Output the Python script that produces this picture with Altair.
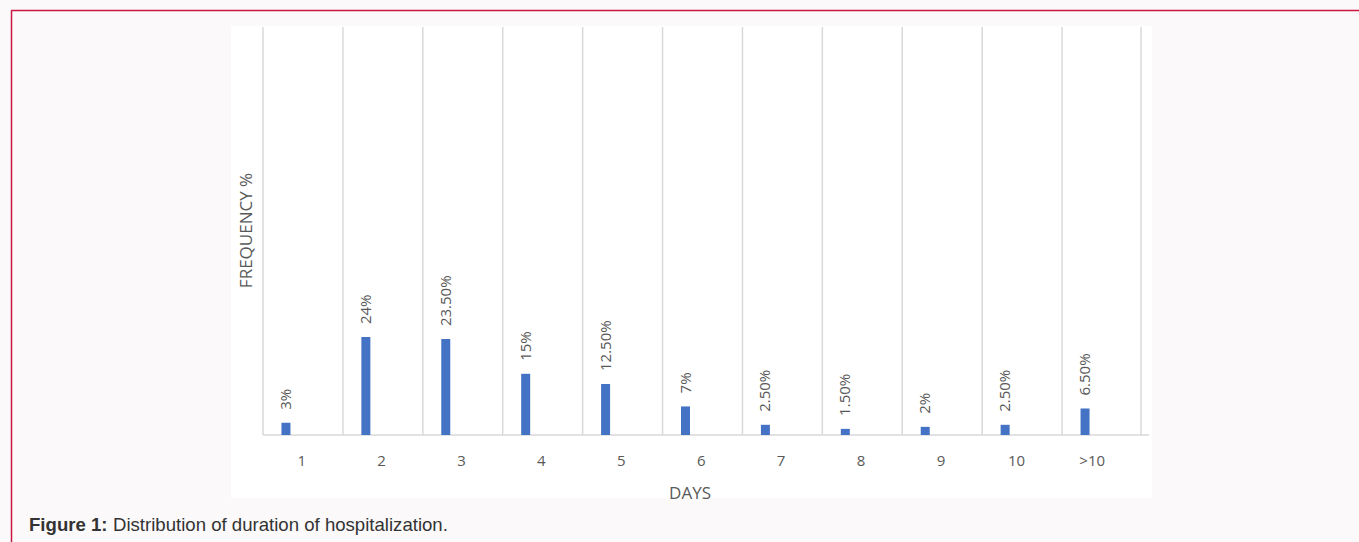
import altair as alt
import pandas as pd

days = ["1", "2", "3", "4", "5", "6", "7", "8", "9", "10", ">10"]
freq = [3, 24, 23.5, 15, 12.5, 7, 2.5, 1.5, 2, 2.5, 6.5]
labels = ["3%", "24%", "23.50%", "15%", "12.50%", "7%", "2.50%", "1.50%", "2%", "2.50%", "6.50%"]

df = pd.DataFrame({"day": days, "freq": freq, "label": labels})

W, H = 879, 408
FONT = "Open Sans"
GRAY = "#595959"
GRID = "#D9D9D9"
RED = "#CC1840"

xscale = alt.Scale(paddingInner=0, paddingOuter=0)
yscale = alt.Scale(domain=[0, 100])

one = alt.Data(values=[{}])

panel = alt.Chart(one).mark_rect(color="white").encode(
    x=alt.value(-32), x2=alt.value(889), y=alt.value(-1), y2=alt.value(471)
)

border_top = alt.Chart(one).mark_rule(color=RED, strokeWidth=1.5).encode(
    x=alt.value(-252), x2=alt.value(1096), y=alt.value(-16.5)
)
border_left = alt.Chart(one).mark_rule(color=RED, strokeWidth=1.5).encode(
    x=alt.value(-251.5), y=alt.value(-16.5), y2=alt.value(515)
)

grid = alt.Chart(df).mark_rule(color=GRID, strokeWidth=1.5).encode(
    x=alt.X("day:N", sort=days, bandPosition=0, scale=xscale),
    y=alt.value(0), y2=alt.value(H),
)
grid_end = alt.Chart(one).mark_rule(color=GRID, strokeWidth=1.5).encode(
    x=alt.value(W - 1), y=alt.value(0), y2=alt.value(H)
)
axis_line = alt.Chart(one).mark_rule(color=GRID, strokeWidth=1.5).encode(
    x=alt.value(0), x2=alt.value(886), y=alt.value(H)
)

bars = alt.Chart(df).mark_bar(color="#4472C4", width=9, xOffset=-17).encode(
    x=alt.X(
        "day:N", sort=days, scale=xscale,
        axis=alt.Axis(
            title="DAYS", labelAngle=0, domain=False, ticks=False, tickSize=0,
            grid=False, labelFont=FONT, labelFontSize=15, labelColor=GRAY,
            labelPadding=25, labelBaseline="middle", labelOffset=3, zindex=2,
            titleFont=FONT, titleFontSize=17, titleColor=GRAY,
            titleFontWeight="normal", titleX=426.5, titleY=63,
            titleBaseline="alphabetic",
        ),
    ),
    y=alt.Y(
        "freq:Q", scale=yscale,
        axis=alt.Axis(
            title="FREQUENCY %", labels=False, ticks=False, domain=False,
            grid=False, titleFont=FONT, titleFontSize=17, titleColor=GRAY,
            titleFontWeight="normal", titleX=-17, titleY=203, zindex=2,
            titleAngle=270, titleBaseline="middle", titleAlign="center",
        ),
    ),
)

text = alt.Chart(df).mark_text(
    angle=270, align="left", baseline="middle", dx=13, xOffset=-17,
    font=FONT, fontSize=15, color=GRAY,
).encode(
    x=alt.X("day:N", sort=days, scale=xscale),
    y=alt.Y("freq:Q", scale=yscale),
    text="label:N",
)

cap_bold = alt.Chart(one).mark_text(
    align="left", baseline="alphabetic", font="Liberation Sans",
    fontSize=18.6, fontWeight="bold", color="#333333",
).encode(x=alt.value(29 - 263), y=alt.value(531 - 27), text=alt.value("Figure 1:"))

cap_reg = alt.Chart(one).mark_text(
    align="left", baseline="alphabetic", font="Liberation Sans",
    fontSize=18.6, color="#333333",
).encode(
    x=alt.value(113 - 263), y=alt.value(531 - 27),
    text=alt.value("Distribution of duration of hospitalization."),
)

chart = alt.layer(
    panel, border_top, border_left, grid, grid_end, axis_line, bars, text,
    cap_bold, cap_reg,
).properties(
    width=W, height=H, background="#FBF9FA",
    padding={"left": 263, "top": 27, "right": 1359 - 263 - W, "bottom": 542 - 27 - H},
    autosize=alt.AutoSizeParams(type="none"),
).configure_view(stroke=None)

chart.save("out.html", embed_options={"renderer": "svg", "actions": False})
